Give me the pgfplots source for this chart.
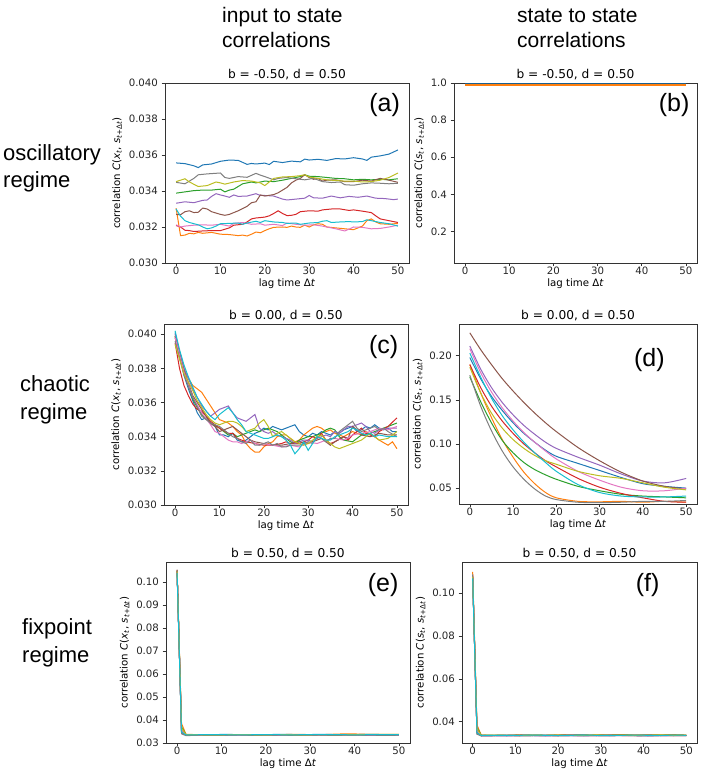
\documentclass[border=0pt]{standalone}
\usepackage{pgfplots}
\pgfplotsset{compat=1.18}
\usepackage{fontspec}
\setmainfont{DejaVu Sans}
\newfontfamily\arialfont{Liberation Sans}
\definecolor{tabblue}{HTML}{1F77B4}
\definecolor{taborange}{HTML}{FF7F0E}
\definecolor{tabgreen}{HTML}{2CA02C}
\definecolor{tabred}{HTML}{D62728}
\definecolor{tabpurple}{HTML}{9467BD}
\definecolor{tabbrown}{HTML}{8C564B}
\definecolor{tabpink}{HTML}{E377C2}
\definecolor{tabgray}{HTML}{7F7F7F}
\definecolor{tabolive}{HTML}{BCBD22}
\definecolor{tabcyan}{HTML}{17BECF}
\pgfplotscreateplotcyclelist{tab}{
  {tabblue, line width=1pt},
  {taborange, line width=1pt},
  {tabgreen, line width=1pt},
  {tabred, line width=1pt},
  {tabpurple, line width=1pt},
  {tabbrown, line width=1pt},
  {tabpink, line width=1pt},
  {tabgray, line width=1pt},
  {tabolive, line width=1pt},
  {tabcyan, line width=1pt}%
}
\newcommand{\ylx}{correlation \textit{C}(\textit{x}\textsubscript{\textit{t}}, \textit{s}\textsubscript{\textit{t}+Δ\textit{t}})}
\newcommand{\yls}{correlation \textit{C}(\textit{s}\textsubscript{\textit{t}}, \textit{s}\textsubscript{\textit{t}+Δ\textit{t}})}
\pgfplotsset{
  panel/.style={
    scale only axis, width=244pt, height=180pt, anchor=south west,
    xmin=-2.5, xmax=52.5, xtick={0,10,20,30,40,50},
    tick align=outside, tick pos=left, major tick length=3.5pt,
    axis line style={black!80, line width=0.6pt},
    every tick/.style={black!80, line width=0.6pt},
    tick label style={font=\fontsize{10.2}{12}\selectfont, text=black!85},
    xticklabel style={inner sep=1pt},
    xticklabel shift=-1pt,
    label style={font=\fontsize{10.2}{12}\selectfont},
    title style={font=\fontsize{12.2}{14}\selectfont, yshift=-6pt},
    xlabel={lag time Δ\textit{t}},
    /pgf/number format/assume math mode=true,
    scaled y ticks=false,
    cycle list name=tab,
  },
}
\tikzset{plabel/.style={font=\arialfont\fontsize{25}{29}\selectfont}}
\begin{document}
\begin{tikzpicture}
\useasboundingbox (0,0) rectangle (708pt,773pt);

% column headers
\node[anchor=base west, font=\arialfont\fontsize{21}{25}\selectfont, inner sep=0pt] at (222pt,750pt) {input to state};
\node[anchor=base west, font=\arialfont\fontsize{21}{25}\selectfont, inner sep=0pt] at (222pt,725pt) {correlations};
\node[anchor=base west, font=\arialfont\fontsize{21}{25}\selectfont, inner sep=0pt] at (517pt,750pt) {state to state};
\node[anchor=base west, font=\arialfont\fontsize{21}{25}\selectfont, inner sep=0pt] at (517pt,725pt) {correlations};
% row labels
\node[anchor=base west, font=\arialfont\fontsize{22}{26}\selectfont, inner sep=0pt] at (3pt,612pt) {oscillatory};
\node[anchor=base west, font=\arialfont\fontsize{22}{26}\selectfont, inner sep=0pt] at (3pt,585pt) {regime};
\node[anchor=base west, font=\arialfont\fontsize{22}{26}\selectfont, inner sep=0pt] at (20pt,381pt) {chaotic};
\node[anchor=base west, font=\arialfont\fontsize{22}{26}\selectfont, inner sep=0pt] at (20pt,353pt) {regime};
\node[anchor=base west, font=\arialfont\fontsize{22}{26}\selectfont, inner sep=0pt] at (22pt,138pt) {fixpoint};
\node[anchor=base west, font=\arialfont\fontsize{22}{26}\selectfont, inner sep=0pt] at (22pt,110pt) {regime};

% ---------------- (a)
\begin{axis}[panel, at={(165pt,510pt)},
  ymin=0.030, ymax=0.040, ytick={0.030,0.032,0.034,0.036,0.038,0.040},
  yticklabel style={/pgf/number format/.cd, fixed, fixed zerofill, precision=3},
  title={b = -0.50, d = 0.50}, ylabel={\ylx}]
\addplot coordinates {(0,.03556)(2,.03552)(4,.03540)(5,.03530)(6,.03545)(8,.03550)(10,.03565)(12,.03572)(14,.03570)(16,.03548)(17,.03553)(18,.03550)(20,.03555)(21,.03547)(22,.03565)(24,.03558)(26,.03566)(28,.03562)(29,.03577)(30,.03572)(32,.03576)(34,.03570)(36,.03580)(38,.03578)(40,.03585)(42,.03578)(43,.03570)(44,.03588)(46,.03595)(48,.03605)(50,.03628)};
\addplot coordinates {(0,.03305)(1,.03152)(2,.03155)(3,.03165)(4,.03162)(5,.03170)(6,.03165)(8,.03170)(10,.03160)(12,.03158)(14,.03152)(15,.03155)(16,.03150)(17,.03160)(18,.03172)(19,.03168)(20,.03180)(21,.03190)(22,.03198)(24,.03200)(25,.03198)(26,.03205)(27,.03200)(28,.03198)(29,.03210)(30,.03200)(31,.03212)(32,.03218)(33,.03215)(34,.03200)(36,.03195)(38,.03190)(40,.03185)(42,.03205)(43,.03235)(44,.03245)(45,.03228)(46,.03218)(48,.03215)(50,.03220)};
\addplot coordinates {(0,.03388)(2,.03395)(4,.03402)(6,.03405)(8,.03405)(10,.03410)(11,.03395)(12,.03405)(13,.03410)(15,.03440)(17,.03450)(18,.03445)(20,.03455)(22,.03452)(24,.03460)(26,.03470)(28,.03480)(29,.03490)(30,.03482)(32,.03480)(34,.03475)(36,.03470)(38,.03468)(40,.03462)(42,.03465)(44,.03462)(46,.03465)(48,.03462)(50,.03468)};
\addplot coordinates {(0,.03208)(1,.03200)(2,.03182)(3,.03180)(4,.03175)(6,.03178)(8,.03180)(10,.03180)(12,.03195)(13,.03210)(15,.03215)(16,.03228)(17,.03245)(18,.03250)(20,.03255)(21,.03262)(22,.03275)(23,.03290)(24,.03275)(25,.03263)(26,.03265)(27,.03270)(28,.03285)(30,.03290)(32,.03288)(33,.03295)(35,.03300)(37,.03300)(39,.03292)(40,.03295)(42,.03288)(44,.03280)(45,.03262)(46,.03245)(48,.03235)(50,.03225)};
\addplot coordinates {(0,.03332)(2,.03340)(4,.03335)(6,.03348)(7,.03350)(8,.03370)(9,.03385)(10,.03378)(11,.03372)(12,.03365)(13,.03378)(14,.03370)(16,.03372)(18,.03385)(19,.03375)(20,.03375)(22,.03372)(24,.03355)(25,.03350)(27,.03355)(29,.03360)(30,.03375)(31,.03362)(33,.03360)(35,.03372)(37,.03362)(39,.03370)(41,.03365)(43,.03372)(45,.03360)(47,.03358)(49,.03352)(50,.03355)};
\addplot coordinates {(0,.03270)(1,.03268)(2,.03285)(3,.03290)(4,.03280)(5,.03282)(6,.03305)(7,.03300)(8,.03285)(10,.03270)(11,.03265)(12,.03270)(14,.03290)(16,.03315)(17,.03335)(18,.03340)(19,.03378)(20,.03372)(22,.03380)(23,.03390)(25,.03420)(26,.03445)(27,.03460)(28,.03470)(29,.03490)(30,.03475)(31,.03465)(32,.03470)(33,.03455)(34,.03460)(36,.03462)(38,.03452)(40,.03452)(42,.03460)(44,.03455)(46,.03470)(48,.03460)(50,.03448)};
\addplot coordinates {(0,.03212)(1,.03200)(2,.03205)(4,.03210)(6,.03212)(8,.03210)(10,.03215)(12,.03205)(13,.03220)(15,.03225)(17,.03215)(19,.03218)(20,.03210)(22,.03215)(24,.03208)(25,.03222)(27,.03215)(29,.03210)(31,.03212)(33,.03205)(35,.03195)(36,.03190)(38,.03178)(39,.03188)(40,.03200)(42,.03198)(44,.03190)(46,.03192)(48,.03200)(50,.03210)};
\addplot coordinates {(0,.03448)(2,.03440)(4,.03470)(5,.03490)(7,.03495)(10,.03500)(11,.03475)(12,.03470)(14,.03480)(16,.03476)(18,.03498)(19,.03488)(20,.03480)(22,.03462)(23,.03470)(25,.03475)(27,.03468)(29,.03462)(31,.03470)(33,.03452)(35,.03447)(37,.03450)(38,.03435)(40,.03432)(42,.03440)(44,.03445)(46,.03443)(48,.03440)(50,.03443)};
\addplot coordinates {(0,.03452)(2,.03468)(3,.03450)(5,.03425)(7,.03430)(9,.03450)(10,.03445)(11,.03438)(13,.03450)(15,.03458)(17,.03455)(19,.03445)(20,.03430)(22,.03470)(24,.03478)(26,.03480)(28,.03485)(29,.03490)(30,.03478)(32,.03470)(34,.03462)(36,.03458)(38,.03455)(40,.03455)(42,.03450)(44,.03452)(46,.03460)(48,.03475)(50,.03500)};
\addplot coordinates {(0,.03300)(1,.03260)(2,.03235)(3,.03225)(5,.03212)(6,.03200)(7,.03190)(8,.03195)(9,.03205)(10,.03218)(12,.03220)(14,.03222)(15,.03215)(16,.03222)(18,.03232)(19,.03225)(20,.03235)(22,.03228)(24,.03225)(25,.03220)(27,.03222)(28,.03215)(30,.03222)(32,.03225)(33,.03232)(34,.03235)(35,.03225)(37,.03228)(39,.03230)(40,.03228)(42,.03230)(43,.03240)(44,.03235)(46,.03225)(48,.03218)(50,.03205)};
\node[plabel] at (rel axis cs:0.90,0.878) {(a)};
\end{axis}

% ---------------- (b)
\begin{axis}[panel, at={(454pt,510pt)}, width=243pt,
  ymin=0.03, ymax=1.0, ytick={0.2,0.4,0.6,0.8,1.0},
  yticklabel style={/pgf/number format/.cd, fixed, fixed zerofill, precision=1},
  title={b = -0.50, d = 0.50}, ylabel={\yls}]
\addplot[forget plot, tabgreen, line width=1.3pt] coordinates {(0,.998)(25,.998)(50,.998)};
\addplot[forget plot, tabred, line width=1.3pt] coordinates {(0,.998)(25,.998)(50,.998)};
\addplot[forget plot, tabpurple, line width=1.3pt] coordinates {(0,.998)(25,.998)(50,.998)};
\addplot[forget plot, tabbrown, line width=1.3pt] coordinates {(0,.998)(25,.998)(50,.998)};
\addplot[forget plot, tabpink, line width=1.3pt] coordinates {(0,.998)(25,.998)(50,.998)};
\addplot[forget plot, tabgray, line width=1.3pt] coordinates {(0,.998)(25,.998)(50,.998)};
\addplot[forget plot, tabolive, line width=1.3pt] coordinates {(0,.998)(25,.998)(50,.998)};
\addplot[forget plot, tabcyan, line width=1.3pt] coordinates {(0,.998)(25,.998)(50,.998)};
\addplot[tabblue!80!black, line width=1.5pt] coordinates {(0,.998)(25,.998)(50,.998)};
\addplot[taborange, line width=1.5pt] coordinates {(0,.9905)(25,.9905)(50,.9905)};
\node[plabel] at (rel axis cs:0.906,0.875) {(b)};
\end{axis}

% ---------------- (c)
\begin{axis}[panel, at={(164pt,268pt)}, height=181pt,
  ymin=0.030, ymax=0.0406, ytick={0.030,0.032,0.034,0.036,0.038,0.040},
  yticklabel style={/pgf/number format/.cd, fixed, fixed zerofill, precision=3},
  title={b = 0.00, d = 0.50}, ylabel={\ylx}]
\addplot coordinates {(0,.0401)(1,.0388)(2,.0376)(3,.0368)(4,.0361)(5,.0354)(6,.0350)(7,.0351)(8,.0348)(9,.0346)(10,.0341)(11,.0341)(12,.0340)(13,.0342)(14,.0338)(15,.0337)(16,.0338)(17,.0340)(18,.0342)(19,.0343)(20,.0345)(21,.0344)(22,.0346)(23,.0345)(24,.0344)(25,.0345)(26,.0346)(27,.0347)(28,.0343)(29,.0341)(30,.0340)(31,.0342)(32,.0341)(33,.0343)(34,.0342)(35,.0341)(36,.0343)(37,.0342)(38,.0344)(39,.0345)(40,.0346)(41,.0343)(42,.0344)(43,.0346)(44,.0345)(45,.0347)(46,.0345)(47,.0344)(48,.0345)(49,.0343)(50,.0343)};
\addplot coordinates {(0,.0399)(1,.0389)(2,.0380)(3,.0374)(4,.0370)(5,.0368)(6,.0366)(7,.0362)(8,.0358)(9,.0354)(10,.0350)(11,.0349)(12,.0348)(13,.0346)(14,.0343)(15,.0341)(16,.0336)(17,.0333)(18,.0331)(19,.0331)(20,.0334)(21,.0336)(22,.0337)(23,.0340)(24,.0341)(25,.0341)(26,.0339)(27,.0337)(28,.0338)(29,.0341)(30,.0343)(31,.0345)(32,.0346)(33,.0345)(34,.0343)(35,.0344)(36,.0342)(37,.0341)(38,.0340)(40,.0343)(42,.0341)(43,.0343)(45,.0340)(46,.0338)(48,.0335)(49,.0337)(50,.0333)};
\addplot coordinates {(0,.0399)(2,.0378)(4,.0362)(5,.0357)(6,.0353)(8,.0348)(10,.0345)(11,.0343)(12,.0341)(13,.0342)(14,.0340)(15,.0341)(16,.0342)(17,.0343)(18,.0344)(19,.0343)(20,.0344)(21,.0345)(22,.0344)(23,.0343)(24,.0341)(25,.0339)(26,.0337)(27,.0336)(28,.0338)(29,.0339)(30,.0340)(31,.0340)(32,.0341)(33,.0342)(34,.0344)(35,.0345)(36,.0344)(37,.0340)(38,.0338)(40,.0337)(41,.0339)(42,.0341)(44,.0342)(46,.0344)(48,.0346)(50,.0348)};
\addplot coordinates {(0,.0395)(1,.0380)(2,.0370)(3,.0364)(4,.0359)(5,.0356)(6,.0355)(7,.0352)(8,.0349)(9,.0347)(10,.0345)(12,.0342)(13,.0342)(14,.0339)(15,.0338)(16,.0337)(18,.0336)(20,.0335)(22,.0335)(24,.0336)(25,.0337)(26,.0336)(28,.0336)(30,.0338)(31,.0340)(32,.0339)(33,.0342)(34,.0338)(35,.0336)(36,.0337)(38,.0340)(39,.0338)(40,.0341)(42,.0345)(43,.0342)(44,.0341)(45,.0340)(46,.0343)(48,.0346)(50,.0351)};
\addplot coordinates {(0,.0400)(1,.0390)(2,.0380)(3,.0374)(4,.0368)(5,.0363)(6,.0358)(7,.0355)(8,.0352)(9,.0354)(10,.0356)(11,.0357)(12,.0358)(13,.0354)(14,.0351)(15,.0350)(16,.0349)(17,.0351)(18,.0353)(19,.0345)(20,.0343)(21,.0342)(22,.0343)(23,.0341)(24,.0340)(25,.0339)(26,.0338)(27,.0336)(28,.0337)(29,.0338)(30,.0338)(31,.0337)(32,.0339)(33,.0340)(34,.0341)(35,.0340)(36,.0343)(37,.0342)(38,.0344)(39,.0346)(40,.0346)(41,.0347)(42,.0348)(43,.0346)(44,.0343)(45,.0342)(46,.0344)(48,.0345)(50,.0345)};
\addplot coordinates {(0,.0398)(2,.0379)(4,.0364)(6,.0356)(7,.0352)(8,.0348)(9,.0346)(10,.0343)(11,.0344)(12,.0345)(13,.0346)(14,.0344)(15,.0342)(16,.0340)(17,.0338)(18,.0337)(20,.0336)(22,.0335)(24,.0335)(26,.0336)(28,.0337)(30,.0336)(32,.0338)(33,.0339)(34,.0337)(35,.0335)(36,.0337)(38,.0340)(39,.0339)(40,.0346)(41,.0344)(42,.0341)(44,.0340)(46,.0342)(48,.0341)(50,.0341)};
\addplot coordinates {(0,.0398)(2,.0378)(4,.0363)(6,.0354)(8,.0347)(9,.0343)(10,.0342)(11,.0340)(12,.0338)(13,.0337)(14,.0337)(15,.0336)(16,.0337)(17,.0338)(18,.0336)(19,.0335)(20,.0336)(22,.0335)(24,.0334)(26,.0335)(28,.0334)(30,.0337)(32,.0336)(34,.0338)(36,.0339)(38,.0338)(40,.0341)(42,.0342)(44,.0343)(46,.0345)(48,.0344)(50,.0346)};
\addplot coordinates {(0,.0396)(2,.0376)(4,.0363)(6,.0352)(8,.0348)(10,.0346)(11,.0344)(12,.0342)(13,.0340)(14,.0339)(15,.0337)(16,.0336)(17,.0338)(18,.0335)(19,.0335)(20,.0336)(21,.0337)(22,.0335)(23,.0336)(24,.0334)(25,.0334)(26,.0335)(28,.0335)(30,.0337)(31,.0336)(32,.0340)(33,.0339)(34,.0337)(35,.0339)(36,.0339)(37,.0343)(38,.0345)(39,.0347)(40,.0349)(41,.0345)(42,.0343)(43,.0344)(44,.0345)(45,.0346)(46,.0344)(47,.0345)(48,.0343)(50,.0340)};
\addplot coordinates {(0,.0394)(2,.0377)(4,.0367)(5,.0361)(6,.0357)(7,.0353)(8,.0350)(9,.0348)(10,.0347)(11,.0348)(12,.0349)(13,.0349)(14,.0348)(15,.0346)(16,.0343)(17,.0344)(18,.0345)(19,.0348)(20,.0350)(21,.0346)(22,.0340)(23,.0342)(24,.0343)(25,.0341)(26,.0339)(27,.0337)(28,.0336)(29,.0335)(30,.0336)(31,.0338)(32,.0340)(33,.0341)(34,.0338)(35,.0336)(36,.0334)(37,.0333)(38,.0334)(39,.0335)(40,.0336)(42,.0338)(44,.0342)(45,.0340)(46,.0338)(48,.0339)(50,.0343)};
\addplot coordinates {(0,.0402)(1,.0391)(2,.0382)(3,.0375)(4,.0369)(5,.0363)(6,.0359)(7,.0355)(8,.0352)(9,.0350)(10,.0353)(11,.0355)(12,.0357)(13,.0354)(14,.0350)(15,.0347)(16,.0343)(17,.0342)(18,.0341)(19,.0340)(20,.0339)(21,.0339)(22,.0340)(23,.0341)(24,.0340)(25,.0338)(26,.0335)(27,.0330)(28,.0333)(29,.0337)(30,.0332)(31,.0336)(32,.0340)(33,.0339)(34,.0338)(35,.0338)(36,.0340)(37,.0341)(38,.0342)(39,.0343)(40,.0345)(41,.0344)(42,.0342)(43,.0341)(44,.0342)(45,.0340)(46,.0341)(48,.0340)(50,.0340)};
\node[plabel] at (rel axis cs:0.90,0.873) {(c)};
\end{axis}

% ---------------- (d)
\begin{axis}[panel, at={(459pt,269pt)}, width=238pt,
  ymin=0.032, ymax=0.236, ytick={0.05,0.10,0.15,0.20},
  yticklabel style={/pgf/number format/.cd, fixed, fixed zerofill, precision=2},
  title={b = 0.00, d = 0.50}, ylabel={\yls}]
\addplot+[smooth] coordinates {(0,.198)(2.5,.174)(5,.154)(7.5,.138)(10,.124)(12.5,.112)(15,.102)(17.5,.093)(20,.086)(25,.078)(30,.070)(35,.062)(40,.055)(45,.052)(50,.050)};
\addplot+[smooth] coordinates {(0,.190)(2.5,.158)(5,.130)(7.5,.105)(10,.085)(12.5,.068)(15,.055)(17.5,.045)(20,.039)(25,.035)(30,.0345)(35,.035)(40,.034)(45,.035)(50,.034)};
\addplot+[smooth] coordinates {(0,.176)(2.5,.148)(5,.124)(7.5,.104)(10,.090)(12.5,.079)(15,.071)(17.5,.065)(20,.060)(25,.052)(30,.047)(35,.043)(40,.041)(45,.040)(50,.039)};
\addplot+[smooth] coordinates {(0,.190)(2.5,.164)(5,.143)(7.5,.126)(10,.112)(12.5,.100)(15,.090)(17.5,.081)(20,.074)(25,.061)(30,.051)(35,.044)(40,.039)(45,.035)(50,.034)};
\addplot+[smooth] coordinates {(0,.211)(2.5,.185)(5,.164)(7.5,.147)(10,.133)(12.5,.121)(15,.111)(17.5,.102)(20,.095)(25,.085)(30,.076)(35,.066)(40,.058)(45,.056)(50,.061)};
\addplot+[smooth] coordinates {(0,.226)(2.5,.207)(5,.190)(7.5,.174)(10,.160)(12.5,.147)(15,.135)(17.5,.124)(20,.114)(25,.096)(30,.081)(35,.068)(40,.058)(45,.052)(50,.049)};
\addplot+[smooth] coordinates {(0,.208)(2.5,.181)(5,.159)(7.5,.141)(10,.126)(12.5,.113)(15,.102)(17.5,.092)(20,.083)(25,.069)(30,.059)(35,.051)(40,.047)(45,.047)(50,.050)};
\addplot+[smooth] coordinates {(0,.178)(2.5,.143)(5,.115)(7.5,.092)(10,.074)(12.5,.060)(15,.049)(17.5,.041)(20,.037)(25,.034)(30,.0335)(35,.034)(40,.035)(45,.035)(50,.036)};
\addplot+[smooth] coordinates {(0,.187)(2.5,.158)(5,.135)(7.5,.118)(10,.105)(12.5,.095)(15,.087)(17.5,.081)(20,.077)(25,.069)(30,.064)(35,.061)(40,.056)(45,.051)(50,.048)};
\addplot+[smooth] coordinates {(0,.203)(2.5,.176)(5,.152)(7.5,.132)(10,.116)(12.5,.102)(15,.090)(17.5,.079)(20,.069)(25,.054)(30,.045)(35,.041)(40,.040)(45,.040)(50,.041)};
\node[plabel] at (rel axis cs:0.80,0.80) {(d)};
\end{axis}

% ---------------- (e)
\begin{axis}[panel, at={(166pt,30pt)}, height=181pt,
  ymin=0.03, ymax=0.1088, ytick={0.03,0.04,0.05,0.06,0.07,0.08,0.09,0.10},
  yticklabel style={/pgf/number format/.cd, fixed, fixed zerofill, precision=2},
  title={b = 0.50, d = 0.50}, ylabel={\ylx}]
\addplot coordinates {(0,.1045)(1,.0352)(2,.0336)(5,.0337)(8,.0336)(11,.0338)(14,.0336)(17,.0337)(20,.0336)(23,.0338)(26,.0337)(29,.0336)(32,.0338)(35,.0337)(38,.0336)(41,.0337)(44,.0338)(47,.0336)(50,.0337)};
\addplot coordinates {(0,.1050)(1,.0385)(2,.0338)(5,.0336)(8,.0335)(11,.0337)(14,.0336)(17,.0335)(20,.0337)(23,.0336)(26,.0338)(29,.0337)(32,.0336)(35,.0338)(38,.0340)(41,.0339)(44,.0337)(47,.0338)(50,.0337)};
\addplot coordinates {(0,.1048)(1,.0370)(2,.0337)(5,.0335)(8,.0337)(11,.0336)(14,.0335)(17,.0336)(20,.0337)(23,.0335)(26,.0336)(29,.0337)(32,.0335)(35,.0336)(38,.0337)(41,.0336)(44,.0335)(47,.0336)(50,.0337)};
\addplot coordinates {(0,.1052)(1,.0360)(2,.0335)(5,.0336)(8,.0335)(11,.0334)(14,.0336)(17,.0335)(20,.0336)(23,.0334)(26,.0335)(29,.0336)(32,.0335)(35,.0334)(38,.0336)(41,.0335)(44,.0336)(47,.0335)(50,.0336)};
\addplot coordinates {(0,.1046)(1,.0355)(2,.0334)(5,.0333)(8,.0335)(11,.0334)(14,.0333)(17,.0335)(20,.0334)(23,.0333)(26,.0335)(29,.0334)(32,.0336)(35,.0334)(38,.0335)(41,.0334)(44,.0333)(47,.0335)(50,.0334)};
\addplot coordinates {(0,.1055)(1,.0345)(2,.0336)(5,.0335)(8,.0336)(11,.0335)(14,.0337)(17,.0336)(20,.0335)(23,.0336)(26,.0337)(29,.0335)(32,.0336)(35,.0337)(38,.0336)(41,.0335)(44,.0336)(47,.0337)(50,.0336)};
\addplot coordinates {(0,.1044)(1,.0358)(2,.0335)(5,.0334)(8,.0336)(11,.0335)(14,.0334)(17,.0335)(20,.0336)(23,.0335)(26,.0334)(29,.0336)(32,.0335)(35,.0334)(38,.0335)(41,.0336)(44,.0334)(47,.0335)(50,.0336)};
\addplot coordinates {(0,.1052)(1,.0340)(2,.0332)(5,.0334)(8,.0333)(11,.0334)(14,.0335)(17,.0333)(20,.0334)(23,.0335)(26,.0333)(29,.0334)(32,.0335)(35,.0333)(38,.0334)(41,.0335)(44,.0334)(47,.0333)(50,.0334)};
\addplot coordinates {(0,.1047)(1,.0365)(2,.0337)(5,.0336)(8,.0335)(11,.0336)(14,.0337)(17,.0336)(20,.0335)(23,.0337)(26,.0336)(29,.0335)(32,.0337)(35,.0336)(38,.0337)(41,.0336)(44,.0338)(47,.0337)(50,.0338)};
\addplot coordinates {(0,.1040)(1,.0348)(2,.0335)(5,.0336)(8,.0337)(11,.0336)(14,.0335)(17,.0336)(20,.0337)(23,.0336)(26,.0335)(29,.0337)(32,.0336)(35,.0337)(38,.0336)(41,.0335)(44,.0337)(47,.0336)(50,.0337)};
\node[plabel] at (rel axis cs:0.89,0.873) {(e)};
\end{axis}

% ---------------- (f)
\begin{axis}[panel, at={(462pt,30pt)}, height=181pt, width=235pt,
  ymin=0.03, ymax=0.1146, ytick={0.04,0.06,0.08,0.10},
  yticklabel style={/pgf/number format/.cd, fixed, fixed zerofill, precision=2},
  title={b = 0.50, d = 0.50}, ylabel={\yls}]
\addplot coordinates {(0,.1075)(1,.0350)(2,.0335)(5,.0336)(8,.0337)(11,.0336)(14,.0335)(17,.0337)(20,.0336)(23,.0337)(26,.0338)(29,.0336)(32,.0337)(35,.0336)(38,.0337)(41,.0338)(44,.0336)(47,.0337)(50,.0336)};
\addplot coordinates {(0,.1100)(1,.0385)(2,.0337)(5,.0335)(8,.0336)(11,.0338)(14,.0335)(17,.0336)(20,.0338)(23,.0337)(26,.0336)(29,.0338)(32,.0337)(35,.0339)(38,.0338)(41,.0337)(44,.0338)(47,.0339)(50,.0337)};
\addplot coordinates {(0,.1080)(1,.0372)(2,.0336)(5,.0335)(8,.0336)(11,.0335)(14,.0337)(17,.0336)(20,.0335)(23,.0336)(26,.0337)(29,.0335)(32,.0336)(35,.0337)(38,.0336)(41,.0335)(44,.0336)(47,.0337)(50,.0336)};
\addplot coordinates {(0,.1085)(1,.0362)(2,.0334)(5,.0335)(8,.0334)(11,.0335)(14,.0336)(17,.0334)(20,.0335)(23,.0336)(26,.0334)(29,.0335)(32,.0336)(35,.0335)(38,.0334)(41,.0336)(44,.0335)(47,.0334)(50,.0335)};
\addplot coordinates {(0,.1078)(1,.0356)(2,.0333)(5,.0334)(8,.0333)(11,.0335)(14,.0334)(17,.0333)(20,.0335)(23,.0334)(26,.0333)(29,.0335)(32,.0334)(35,.0336)(38,.0334)(41,.0333)(44,.0335)(47,.0334)(50,.0335)};
\addplot coordinates {(0,.1070)(1,.0346)(2,.0335)(5,.0336)(8,.0335)(11,.0337)(14,.0336)(17,.0335)(20,.0336)(23,.0337)(26,.0335)(29,.0336)(32,.0337)(35,.0336)(38,.0335)(41,.0337)(44,.0336)(47,.0335)(50,.0336)};
\addplot coordinates {(0,.1082)(1,.0358)(2,.0334)(5,.0335)(8,.0336)(11,.0334)(14,.0335)(17,.0336)(20,.0334)(23,.0335)(26,.0336)(29,.0334)(32,.0335)(35,.0334)(38,.0336)(41,.0335)(44,.0334)(47,.0336)(50,.0335)};
\addplot coordinates {(0,.1088)(1,.0341)(2,.0333)(5,.0334)(8,.0335)(11,.0333)(14,.0334)(17,.0335)(20,.0333)(23,.0334)(26,.0335)(29,.0334)(32,.0333)(35,.0335)(38,.0334)(41,.0333)(44,.0334)(47,.0335)(50,.0334)};
\addplot coordinates {(0,.1077)(1,.0366)(2,.0336)(5,.0337)(8,.0336)(11,.0335)(14,.0337)(17,.0336)(20,.0337)(23,.0335)(26,.0336)(29,.0338)(32,.0336)(35,.0337)(38,.0336)(41,.0337)(44,.0338)(47,.0336)(50,.0337)};
\addplot coordinates {(0,.1070)(1,.0348)(2,.0335)(5,.0336)(8,.0335)(11,.0336)(14,.0337)(17,.0336)(20,.0335)(23,.0336)(26,.0337)(29,.0336)(32,.0335)(35,.0336)(38,.0337)(41,.0336)(44,.0335)(47,.0337)(50,.0336)};
\node[plabel] at (rel axis cs:0.79,0.873) {(f)};
\end{axis}
\end{tikzpicture}
\end{document}
